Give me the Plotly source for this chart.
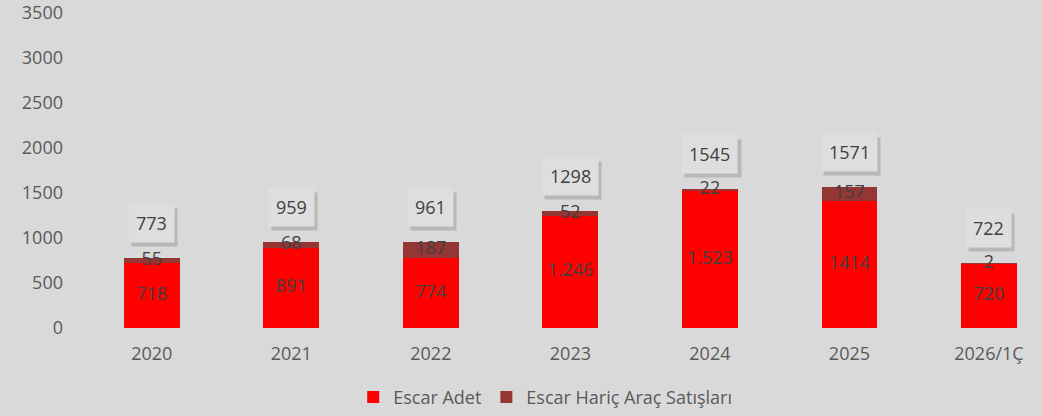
import plotly.graph_objects as go

# ---------------------------------------------------------------------------
years = ["2020", "2021", "2022", "2023", "2024", "2025", "2026/1Ç"]
escar_adet = [718, 891, 774, 1246, 1523, 1414, 720]
escar_haric = [55, 68, 187, 52, 22, 157, 2]
totals = [773, 959, 961, 1298, 1545, 1571, 722]
escar_labels = ["718", "891", "774", "1.246", "1.523", "1414", "720"]
haric_labels = ["55", "68", "187", "52", "22", "157", "2"]
y_ticks = [0, 500, 1000, 1500, 2000, 2500, 3000, 3500]

FONT = "Open Sans"
TXT = "#404040"

fig = go.Figure()
fig.add_trace(go.Bar(
    x=years, y=escar_adet, name="Escar Adet",
    marker=dict(color="#FF0000", line=dict(width=0)),
    width=0.4,
))
fig.add_trace(go.Bar(
    x=years, y=escar_haric, name="Escar Hariç Araç Satışları",
    marker=dict(color="#943634", line=dict(width=0)),
    width=0.4,
))

# segment labels
fig.add_trace(go.Scatter(
    x=years, y=[v / 2 for v in escar_adet], text=escar_labels,
    mode="text", textfont=dict(family=FONT, size=18, color=TXT),
    showlegend=False, hoverinfo="skip",
))
fig.add_trace(go.Scatter(
    x=years, y=[a + h / 2 for a, h in zip(escar_adet, escar_haric)], text=haric_labels,
    mode="text", textfont=dict(family=FONT, size=18, color=TXT),
    showlegend=False, hoverinfo="skip",
))

# total boxes with a soft shadow (x given as category index)
for i, t in enumerate(totals):
    s = str(t)
    fig.add_annotation(
        x=i, y=t, text=" ", showarrow=False, yanchor="bottom",
        yshift=11, xshift=3, width=10.4 * len(s) + 2, height=25,
        bgcolor="rgba(0,0,0,0.15)", borderpad=6,
    )
    fig.add_annotation(
        x=i, y=t, text=s, showarrow=False, yanchor="bottom",
        yshift=15, font=dict(family=FONT, size=18, color=TXT),
        bgcolor="#DEDEDE", borderpad=7,
    )

fig.update_layout(
    barmode="stack",
    width=1042, height=416,
    paper_bgcolor="#D9D9D9", plot_bgcolor="#D9D9D9",
    margin=dict(l=82, r=0, t=13, b=88),
    font=dict(family=FONT, size=18, color="#595959"),
    legend=dict(
        orientation="h", x=0.4825, xanchor="center", y=-0.279, yanchor="bottom",
        font=dict(family=FONT, size=18, color="#595959"),
        traceorder="normal",
    ),
    xaxis=dict(
        type="category", range=[-0.5, 6.38], showgrid=False, showline=False,
        ticks="", tickfont=dict(size=18), ticklabelstandoff=13,
    ),
    yaxis=dict(
        range=[0, 3500], tickvals=y_ticks, showgrid=False, zeroline=False,
        showline=False, ticks="", tickfont=dict(size=18), ticklabelstandoff=18,
    ),
)

fig.write_html(
    "out.html",
    config={"displayModeBar": False},
    post_script="document.body.style.margin='0';",
)
